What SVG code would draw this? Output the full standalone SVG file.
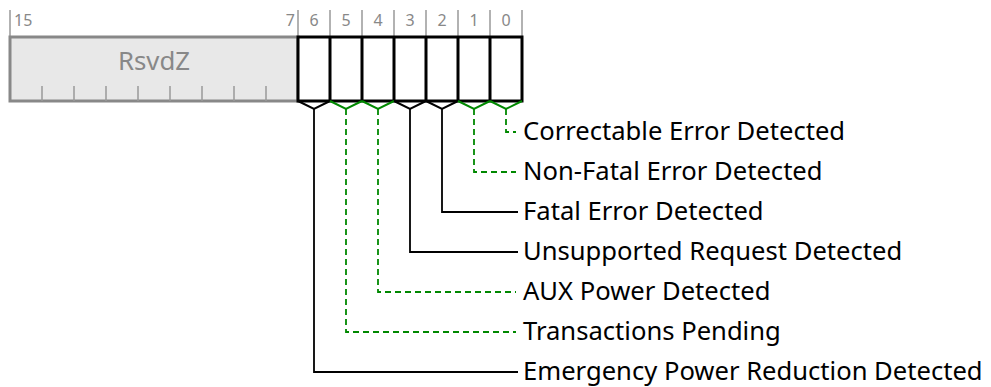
<svg xmlns="http://www.w3.org/2000/svg" width="991" height="387" viewBox="0 0 991 387">
<style>
.num{font-family:"Noto Sans","Liberation Sans",sans-serif;font-size:16px;fill:#888}
.lbl{font-family:"Noto Sans","Liberation Sans",sans-serif;font-size:25.6px;fill:#000}
.rsv{font-family:"Noto Sans","Liberation Sans",sans-serif;font-size:25.8px;fill:#888}
.tick{stroke:#999;stroke-width:1.5;fill:none}
.cell{stroke:#000;stroke-width:3;fill:#fff}
.vb{stroke:#000;stroke-width:2;fill:none}
.vg{stroke:#080;stroke-width:2;fill:none}
.cb{stroke:#000;stroke-width:1.8;fill:none}
.cg{stroke:#080;stroke-width:1.8;fill:none;stroke-dasharray:6 4}
</style>
<g id="ruler">
<path class="tick" d="M10,10V37M298,10V37M330,10V37M362,10V37M394,10V37M426,10V37M458,10V37M490,10V37M522,10V37"/>
<text class="num" x="14" y="26">15</text>
<text class="num" x="295" y="26" text-anchor="end">7</text>
<text class="num" x="314" y="26" text-anchor="middle">6</text>
<text class="num" x="346" y="26" text-anchor="middle">5</text>
<text class="num" x="378" y="26" text-anchor="middle">4</text>
<text class="num" x="410" y="26" text-anchor="middle">3</text>
<text class="num" x="442" y="26" text-anchor="middle">2</text>
<text class="num" x="474" y="26" text-anchor="middle">1</text>
<text class="num" x="506" y="26" text-anchor="middle">0</text>
</g>
<g id="rsvdz">
<rect x="10" y="37" width="288" height="64" fill="#e8e8e8" stroke="#888" stroke-width="3"/>
<path class="tick" d="M42,86V101M74,86V101M106,86V101M138,86V101M170,86V101M202,86V101M234,86V101M266,86V101"/>
<text class="rsv" x="154" y="70" text-anchor="middle">RsvdZ</text>
</g>
<g id="bits">
<rect class="cell" x="298" y="37" width="224" height="64"/>
<path class="cell" d="M330,37V101M362,37V101M394,37V101M426,37V101M458,37V101M490,37V101"/>
</g>
<g id="connectors">
<path class="vb" d="M298,101L314,109L330,101"/>
<path class="vg" d="M330,101L346,109L362,101"/>
<path class="vg" d="M362,101L378,109L394,101"/>
<path class="vb" d="M394,101L410,109L426,101"/>
<path class="vb" d="M426,101L442,109L458,101"/>
<path class="vg" d="M458,101L474,109L490,101"/>
<path class="vg" d="M490,101L506,109L522,101"/>
<path class="cg" d="M506,109V132H516"/>
<path class="cg" d="M474,109V172H516"/>
<path class="cb" d="M442,109V212H518"/>
<path class="cb" d="M410,109V252H518"/>
<path class="cg" d="M378,109V292H516"/>
<path class="cg" d="M346,109V332H516"/>
<path class="cb" d="M314,109V372H518"/>
</g>
<g id="labels">
<text class="lbl" x="523" y="140">Correctable Error Detected</text>
<text class="lbl" x="523" y="180">Non-Fatal Error Detected</text>
<text class="lbl" x="523" y="220">Fatal Error Detected</text>
<text class="lbl" x="523" y="260">Unsupported Request Detected</text>
<text class="lbl" x="523" y="300">AUX Power Detected</text>
<text class="lbl" x="523" y="340">Transactions Pending</text>
<text class="lbl" x="523" y="380">Emergency Power Reduction Detected</text>
</g>
</svg>
